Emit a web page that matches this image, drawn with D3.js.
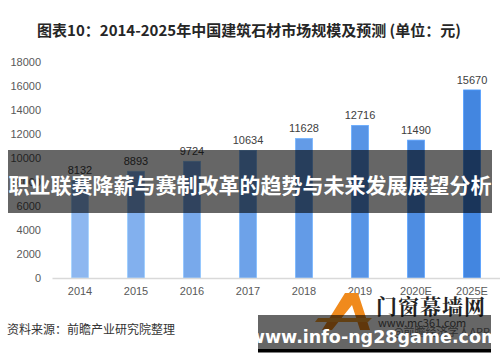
<!DOCTYPE html>
<html><head><meta charset="utf-8">
<script src="https://cdn.jsdelivr.net/npm/d3@7"></script>
<style>
html,body{margin:0;padding:0;background:#fff;}
svg{display:block;font-family:"Noto Sans CJK SC","Noto Sans",sans-serif;}
</style></head>
<body>
<script>
const categories = ["2014","2015","2016","2017","2018","2019","2020E","2025E"];
const values = [8132, 8893, 9724, 10634, 11628, 12716, 11490, 15670];
const yTicks = [0, 2000, 4000, 6000, 8000, 10000, 12000, 14000, 16000, 18000];
const titleText = "图表10：2014-2025年中国建筑石材市场规模及预测 (单位：元)";
const sourceText = "资料来源：前瞻产业研究院整理";
const overlayText = "职业联赛降薪与赛制改革的趋势与未来发展展望分析";
const bannerText = "www.info-ng28game.com";

const W = 500, H = 362;
const svg = d3.select("body").append("svg").attr("width", W).attr("height", H);

// title
svg.append("text").attr("x", 249).attr("y", 36).attr("text-anchor","middle")
  .attr("font-size", 15).attr("font-weight","bold").attr("fill","#262626").text(titleText);

const x = d3.scaleBand().domain(categories).range([52, 500]).paddingInner(0.7).paddingOuter(0.35);
const y = d3.scaleLinear().domain([0, 18000]).range([278, 62]);
const col = d3.scaleLinear().domain([0, categories.length - 1]).range(["#8db7f0", "#4386e0"]);

// y axis labels
const yAxis = d3.axisLeft(y).tickValues(yTicks).tickSize(0).tickPadding(0).tickFormat(d3.format("d"));
const ya = svg.append("g").attr("transform", "translate(41,0)").call(yAxis);
ya.select(".domain").remove();
ya.selectAll("text").attr("font-size", 11).attr("fill", "#595959").attr("font-family","Liberation Sans, Arial, sans-serif");

// bars
svg.append("g").selectAll("rect").data(values).join("rect")
  .attr("x", (d,i) => x(categories[i]))
  .attr("y", d => y(d))
  .attr("width", x.bandwidth())
  .attr("height", d => y(0) - y(d))
  .attr("fill", (d,i) => col(i))
  .attr("stroke", (d,i) => d3.color(col(i)).brighter(0.4))
  .attr("stroke-width", 0.8);

// value labels
svg.append("g").selectAll("text").data(values).join("text")
  .attr("x", (d,i) => x(categories[i]) + x.bandwidth()/2)
  .attr("y", d => y(d) - 6)
  .attr("text-anchor","middle").attr("font-size", 11).attr("fill","#404040")
  .attr("font-family","Liberation Sans, Arial, sans-serif")
  .text(d => d);

// x axis
const xAxis = d3.axisBottom(x).tickSize(0).tickPadding(9);
const xa = svg.append("g").attr("transform", `translate(0,${y(0)})`).call(xAxis);
xa.select(".domain").attr("stroke", "#d9d9d9").attr("stroke-width", 1.5);
xa.selectAll("text").attr("font-size", 11).attr("fill", "#595959").attr("font-family","Liberation Sans, Arial, sans-serif");

// source
svg.append("text").attr("x", 7).attr("y", 334).attr("font-size", 12).attr("fill","#333").text(sourceText);

// logo
const lg = svg.append("g");
lg.append("path").attr("d", "M322,330 L345,293 L358,293 L370,330 L360,330 L352,305 L332,330 Z").attr("fill", "#f08a1c");
lg.append("path").attr("d", "M318,318 L372,318 L368,322 L315,322 Z").attr("fill", "#f5a030");
lg.append("text").attr("x", 376).attr("y", 314).attr("font-size", 21).attr("font-weight","bold")
  .attr("font-family","Noto Serif CJK SC, Noto Sans CJK SC, serif").attr("fill","#222").attr("letter-spacing", 1).text("门窗幕墙网");
lg.append("text").attr("x", 378).attr("y", 327).attr("font-size", 11).attr("fill","#555").text("www.mc361.com");
lg.append("text").attr("x", 393).attr("y", 336).attr("font-size", 11).attr("fill","#777").text("@前瞻经济学人APP");

// overlay band
svg.append("rect").attr("x", 8).attr("y", 150).attr("width", 484).attr("height", 63).attr("fill", "rgba(0,0,0,0.6)");
svg.append("text").attr("x", 250).attr("y", 193).attr("text-anchor","middle")
  .attr("font-size", 21).attr("font-weight","bold").attr("fill","#fff").text(overlayText);

// bottom banner
svg.append("rect").attr("x", 258).attr("y", 315).attr("width", 233).attr("height", 34).attr("fill", "rgba(0,0,0,0.6)");
svg.append("rect").attr("x", 258).attr("y", 349).attr("width", 233).attr("height", 3.5).attr("fill", "#000");
svg.append("text").attr("x", 374).attr("y", 343).attr("text-anchor","middle")
  .attr("font-size", 17.5).attr("font-weight","bold").attr("fill","#fff")
  .attr("font-family","DejaVu Sans, sans-serif").text(bannerText);
</script>
</body></html>
